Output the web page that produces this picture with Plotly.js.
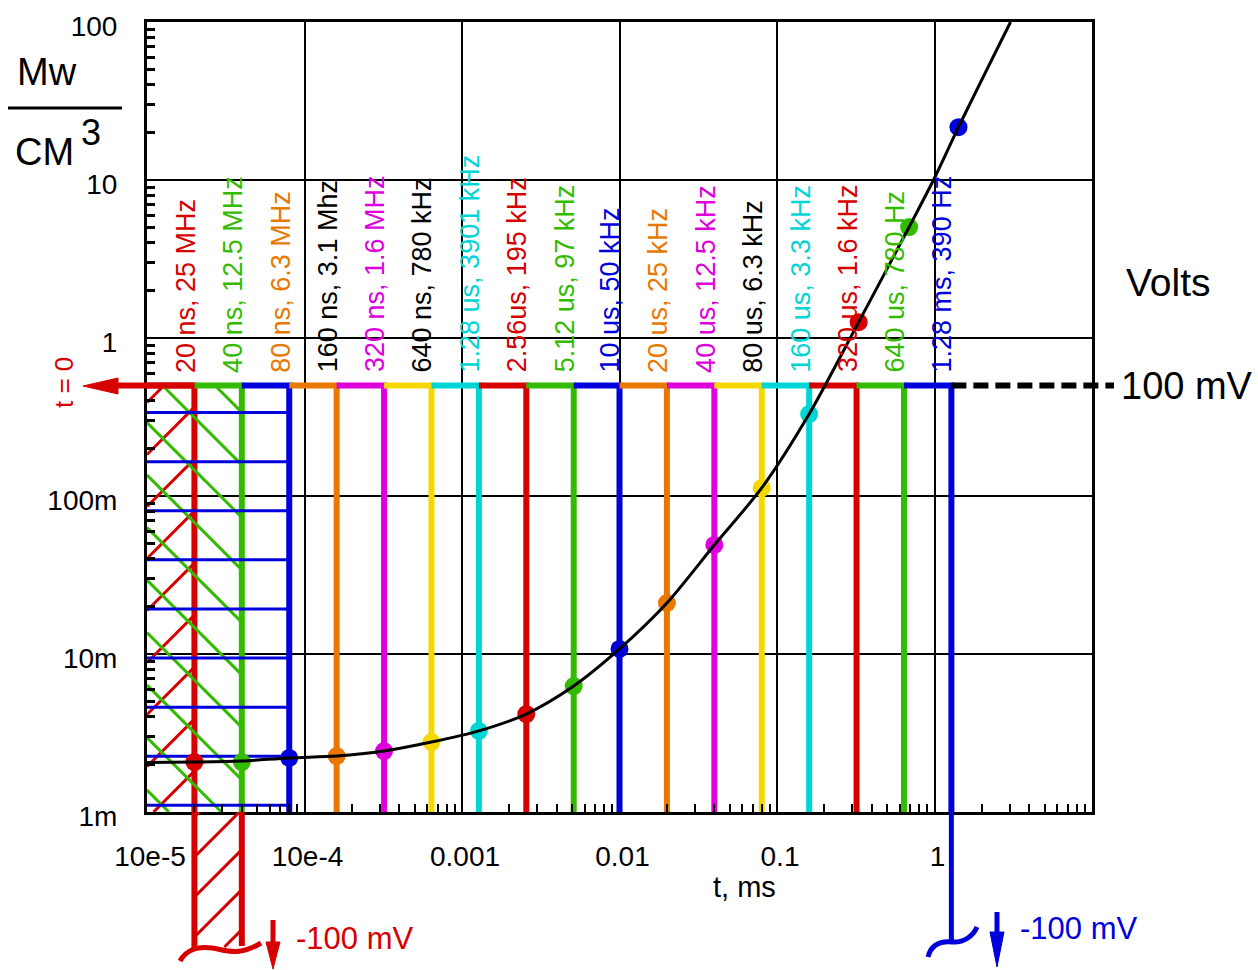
<!DOCTYPE html>
<html><head><meta charset="utf-8">
<script src="https://cdn.plot.ly/plotly-3.0.1.min.js"></script>
<style>html,body{margin:0;padding:0;background:#fff;overflow:hidden}</style>
</head><body>
<div id="chart" style="width:1258px;height:970px"></div>
<script>
// ================= DATA =================
// pulse durations (ms) drawn as vertical lines
const pulseTimes = [2e-5, 4e-5, 8e-5, 1.6e-4, 3.2e-4, 6.4e-4, 1.28e-3, 2.56e-3, 5.12e-3,
                    1e-2, 2e-2, 4e-2, 8e-2, 0.16, 0.32, 0.64, 1.28];
const pulseColors = ['#d60000', '#33bb00', '#0000dd', '#e87800', '#dd00dd', '#f5d800', '#00d5d5',
                     '#d60000', '#33bb00', '#0000dd', '#e87800', '#dd00dd', '#f5d800', '#00d5d5',
                     '#d60000', '#33bb00', '#0000dd'];
const labelTexts = ['20 ns, 25 MHz', '40 ns, 12.5 MHz', '80 ns, 6.3 MHz', '160 ns, 3.1 Mhz',
                    '320 ns, 1.6 MHz', '640 ns, 780 kHz', '1.28 us, 3901 kHz', '2.56us, 195 kHz',
                    '5.12 us, 97 kHz', '10 us, 50 kHz', '20 us, 25 kHz', '40 us, 12.5 kHz',
                    '80 us, 6.3 kHz', '160 us, 3.3 kHz', '320 us, 1.6 kHz', '640 us, 780 Hz',
                    '1.28 ms, 390 Hz'];
const labelColors = ['#d60000', '#33bb00', '#e87800', '#000000', '#dd00dd', '#000000', '#00d5d5',
                     '#d60000', '#33bb00', '#0000dd', '#e87800', '#dd00dd', '#000000', '#00d5d5',
                     '#d60000', '#33bb00', '#0000dd'];
// measured points (power density, Mw/cm^3)
const dotTimes  = [2e-5, 4e-5, 8e-5, 1.6e-4, 3.2e-4, 6.4e-4, 1.28e-3, 2.56e-3, 5.12e-3,
                   1e-2, 2e-2, 4e-2, 8e-2, 0.16, 0.33, 0.69, 1.42];
const dotValues = [2.07e-3, 2.07e-3, 2.2e-3, 2.26e-3, 2.43e-3, 2.77e-3, 3.26e-3, 4.17e-3, 6.27e-3,
                   0.01076, 0.02103, 0.049, 0.1124, 0.330, 1.26, 5.04, 21.6];
// smooth curve
const curveTimes  = [1e-5, 2e-5, 4e-5, 8e-5, 1.6e-4, 3.2e-4, 6.4e-4, 1.28e-3, 2.56e-3, 5.12e-3,
                     1e-2, 2e-2, 4e-2, 8e-2, 0.16, 0.33, 0.69, 1.0, 1.42, 3.04];
const curveValues = [2.06e-3, 2.07e-3, 2.1e-3, 2.2e-3, 2.26e-3, 2.43e-3, 2.77e-3, 3.26e-3, 4.17e-3, 6.27e-3,
                     0.01076, 0.02103, 0.049, 0.1124, 0.330, 1.26, 5.04, 10.3, 21.6, 100];
const levelValue = 0.5;   // the "100 mV" level as read on the Mw/cm^3 axis
const xTickVals = [1e-5, 1e-4, 1e-3, 1e-2, 0.1, 1];
const xTickText = ['10e-5', '10e-4', '0.001', '0.01', '0.1', '1'];
const yTickVals = [1e-3, 1e-2, 0.1, 1, 10, 100];
const yTickText = ['1m', '10m', '100m', '1', '10', '100'];

// ================= GEOMETRY =================
const W = 1258, H = 970, ML = 147, MR = 166, MT = 22, MB = 5;
const plotW = W - ML - MR, plotH = H - MT - MB;
const X0 = -5, X1 = 1, Y0 = -3, Y1 = 2;
const mainBottomPx = 812;
const D0 = (H - MB - mainBottomPx) / plotH;
const XPD = plotW / (X1 - X0);                  // px per decade (x)
const YPD = (mainBottomPx - MT) / (Y1 - Y0);    // px per decade (y)
const FONT = 'Arial, "Liberation Sans", sans-serif';
const px2x = px => (px - ML) / plotW;
const py2y = py => (H - MB - py) / plotH;
const xPaper = t => (Math.log10(t) - X0) / (X1 - X0);
const yPaper = v => D0 + (Math.log10(v) - Y0) / (Y1 - Y0) * (1 - D0);
const P = (px, py) => px2x(px).toFixed(5) + ',' + py2y(py).toFixed(5);

// clip line y = c + m (x - xa) to x in [xa,xb], y in [yb,yt]
function clipLine(c, m, xa, xb, yb, yt, xs, ys, toX, toY) {
  let lo = xa, hi = xb;
  if (m !== 0) {
    const a = xa + (yb - c) / m, b = xa + (yt - c) / m;
    lo = Math.max(xa, Math.min(a, b)); hi = Math.min(xb, Math.max(a, b));
  } else if (c < yb || c > yt) return;
  if (hi <= lo) return;
  xs.push(toX(lo), toX(hi), null);
  ys.push(toY(c + m * (lo - xa)), toY(c + m * (hi - xa)), null);
}
const pow10 = v => Math.pow(10, v);
const ident = v => v;
const topLog = Math.log10(levelValue);

const traces = [];

// red "/" hatching (20 ns pulse area)
{
  const xs = [], ys = [], m = XPD / YPD;
  for (let k = 0; k <= 10; k++) {
    clipLine(topLog - (17 + 52 * k) / YPD, m, X0, Math.log10(pulseTimes[0]), Y0, topLog, xs, ys, pow10, pow10);
  }
  traces.push({x: xs, y: ys, mode: 'lines', line: {color: '#d60000', width: 3}, hoverinfo: 'skip', xaxis: 'x', yaxis: 'y'});
}
// pulse lines: horizontal at the 100 mV level + vertical down to the axis
pulseTimes.forEach((t, i) => {
  const prev = i === 0 ? pow10(X0) : pulseTimes[i - 1];
  traces.push({x: [prev, t, t], y: [levelValue, levelValue, yTickVals[0]], mode: 'lines',
    line: {color: pulseColors[i], width: 6}, hoverinfo: 'skip', xaxis: 'x', yaxis: 'y'});
});
// green "\" hatching (40 ns)
{
  const xs = [], ys = [], m = -XPD / YPD;
  for (let k = -2; k <= 9; k++) {
    clipLine(topLog - (37 + 52.5 * k) / YPD, m, X0, Math.log10(pulseTimes[1]), Y0, topLog, xs, ys, pow10, pow10);
  }
  traces.push({x: xs, y: ys, mode: 'lines', line: {color: '#33bb00', width: 3}, hoverinfo: 'skip', xaxis: 'x', yaxis: 'y'});
}
// blue horizontal hatching (80 ns)
{
  const xs = [], ys = [];
  for (let k = 0; k <= 8; k++) {
    clipLine(topLog - (27 + 49.1 * k) / YPD, 0, X0, Math.log10(pulseTimes[2]), Y0, topLog, xs, ys, pow10, pow10);
  }
  traces.push({x: xs, y: ys, mode: 'lines', line: {color: '#0000dd', width: 3}, hoverinfo: 'skip', xaxis: 'x', yaxis: 'y'});
}
// dots
traces.push({x: dotTimes, y: dotValues, mode: 'markers',
  marker: {size: 18, color: dotTimes.map((_, i) => pulseColors[i])}, hoverinfo: 'x+y', xaxis: 'x', yaxis: 'y'});
// curve
traces.push({x: curveTimes, y: curveValues, mode: 'lines', line: {color: '#000', width: 3, shape: 'spline', smoothing: 0.8},
  hoverinfo: 'skip', xaxis: 'x', yaxis: 'y'});

// ---- lower strip (below the axis): -100 mV pulses; y2 in pixel units ----
{
  const xs = [], ys = [];
  const xa = Math.log10(pulseTimes[0]), xb = Math.log10(pulseTimes[1]);
  for (let k = 0; k <= 4; k++) clipLine(817 + 40 * k, -XPD, xa, xb, 812, 947, xs, ys, pow10, ident);
  traces.push({x: xs, y: ys, mode: 'lines', line: {color: '#d60000', width: 3}, hoverinfo: 'skip', xaxis: 'x2', yaxis: 'y2'});
}
traces.push({x: [pulseTimes[0], pulseTimes[0], null, pulseTimes[1], pulseTimes[1]], y: [812, 950, null, 812, 946],
  mode: 'lines', line: {color: '#d60000', width: 6}, hoverinfo: 'skip', xaxis: 'x2', yaxis: 'y2'});
traces.push({x: [pulseTimes[16], pulseTimes[16]], y: [812, 943],
  mode: 'lines', line: {color: '#0000dd', width: 5}, hoverinfo: 'skip', xaxis: 'x2', yaxis: 'y2'});

// ================= ANNOTATIONS =================
const annotations = [];
labelTexts.forEach((txt, i) => {
  annotations.push({xref: 'x', yref: 'y', x: Math.log10(pulseTimes[i]), y: topLog, text: txt, showarrow: false,
    textangle: -90, xanchor: 'center', yanchor: 'bottom', xshift: -9, yshift: 11,
    font: {family: FONT, size: 27, color: labelColors[i]}});
});
const paperText = (text, px, py, size, color, extra) => Object.assign({
  xref: 'paper', yref: 'paper', x: px2x(px), y: py2y(py), text, showarrow: false,
  xanchor: 'center', yanchor: 'middle', font: {family: FONT, size, color}}, extra || {});
annotations.push(paperText('Mw', 47, 72, 38, '#000'));
annotations.push(paperText('CM', 44, 152, 38, '#000'));
annotations.push(paperText('3', 91, 132, 36, '#000'));
annotations.push(paperText('Volts', 1168, 282, 39, '#000'));
annotations.push(paperText('100 mV', 1119, 386, 38, '#000', {xanchor: 'left'}));
annotations.push(paperText('t = 0', 64, 383, 26, '#d60000', {textangle: -90}));
annotations.push(paperText('-100 mV', 294, 938, 31, '#d60000', {xanchor: 'left'}));
annotations.push(paperText('-100 mV', 1018, 928, 31, '#0000dd', {xanchor: 'left'}));
annotations.push(paperText('t, ms', 744, 887, 29, '#000'));

// ================= SHAPES =================
const yl = yPaper(levelValue);
const shapes = [
  // fraction bar
  {type: 'line', xref: 'paper', yref: 'paper', x0: px2x(8), x1: px2x(122), y0: py2y(108), y1: py2y(108), line: {color: '#000', width: 3}},
  // t = 0 arrow
  {type: 'line', xref: 'paper', yref: 'paper', x0: px2x(112), x1: xPaper(pulseTimes[0]), y0: yl, y1: yl, line: {color: '#d60000', width: 6}},
  {type: 'path', xref: 'paper', yref: 'paper', path: 'M' + P(83, 386) + 'L' + P(118, 378) + 'L' + P(118, 394) + 'Z',
    fillcolor: '#d60000', line: {color: '#d60000', width: 1}},
  // dashed 100 mV line
  {type: 'line', xref: 'paper', yref: 'paper', x0: xPaper(pulseTimes[16]), x1: px2x(1114), y0: yl, y1: yl,
    line: {color: '#000', width: 6, dash: '15px,7px'}},
  // red wave
  {type: 'path', xref: 'paper', yref: 'paper',
    path: 'M' + P(180, 961) + 'C' + P(186, 950) + ' ' + P(198, 946) + ' ' + P(212, 948) + 'S' + P(238, 957) + ' ' + P(261, 943),
    line: {color: '#d60000', width: 5}},
  // blue wave
  {type: 'path', xref: 'paper', yref: 'paper',
    path: 'M' + P(928, 957) + 'C' + P(931, 945) + ' ' + P(940, 941) + ' ' + P(952, 942) + 'S' + P(973, 936) + ' ' + P(977, 927),
    line: {color: '#0000dd', width: 5}},
  // red down arrow
  {type: 'line', xref: 'paper', yref: 'paper', x0: px2x(273), x1: px2x(273), y0: py2y(920), y1: py2y(948), line: {color: '#d60000', width: 5}},
  {type: 'path', xref: 'paper', yref: 'paper', path: 'M' + P(266, 942) + 'L' + P(280, 942) + 'L' + P(273, 969) + 'Z',
    fillcolor: '#d60000', line: {color: '#d60000', width: 1}},
  // blue down arrow
  {type: 'line', xref: 'paper', yref: 'paper', x0: px2x(997), x1: px2x(997), y0: py2y(912), y1: py2y(938), line: {color: '#0000dd', width: 5}},
  {type: 'path', xref: 'paper', yref: 'paper', path: 'M' + P(990, 932) + 'L' + P(1004, 932) + 'L' + P(997, 967) + 'Z',
    fillcolor: '#0000dd', line: {color: '#0000dd', width: 1}}
];

// minor tick positions (2..9 per decade)
const minorVals = (a, b) => { const r = []; for (let d = a; d < b; d++) for (let k = 2; k <= 9; k++) r.push(k * Math.pow(10, d)); return r; };

const layout = {
  width: W, height: H,
  margin: {l: ML, r: MR, t: MT, b: MB},
  paper_bgcolor: '#fff', plot_bgcolor: 'rgba(0,0,0,0)',
  showlegend: false,
  font: {family: FONT, color: '#000'},
  xaxis: {type: 'log', range: [X0, X1], domain: [0, 1], anchor: 'y',
    tickmode: 'array', tickvals: xTickVals, ticktext: xTickText, ticks: '',
    tickfont: {family: FONT, size: 28, color: '#000'}, ticklabelstandoff: 17, ticklabelshift: 3,
    showgrid: true, gridcolor: '#000', gridwidth: 2,
    showline: true, linecolor: '#000', linewidth: 3, mirror: true, zeroline: false,
    minor: {tickmode: 'array', tickvals: minorVals(-5, 1), ticks: 'inside', ticklen: 8, tickwidth: 2, tickcolor: '#000', showgrid: false}},
  yaxis: {type: 'log', range: [Y0, Y1], domain: [D0, 1], anchor: 'x',
    tickmode: 'array', tickvals: yTickVals, ticktext: yTickText, ticks: '',
    tickfont: {family: FONT, size: 28, color: '#000'}, ticklabelstandoff: 21, ticklabelshift: 4,
    showgrid: true, gridcolor: '#000', gridwidth: 2,
    showline: true, linecolor: '#000', linewidth: 3, mirror: true, zeroline: false,
    minor: {tickmode: 'array', tickvals: minorVals(-3, 2), ticks: 'inside', ticklen: 8, tickwidth: 3, tickcolor: '#000', showgrid: false}},
  xaxis2: {type: 'log', range: [X0, X1], domain: [0, 1], anchor: 'y2', visible: false},
  yaxis2: {type: 'linear', range: [H - MB, mainBottomPx], domain: [0, D0], anchor: 'x2', visible: false},
  annotations, shapes
};

Plotly.newPlot('chart', traces, layout, {staticPlot: true, displayModeBar: false});
</script>
</body></html>
